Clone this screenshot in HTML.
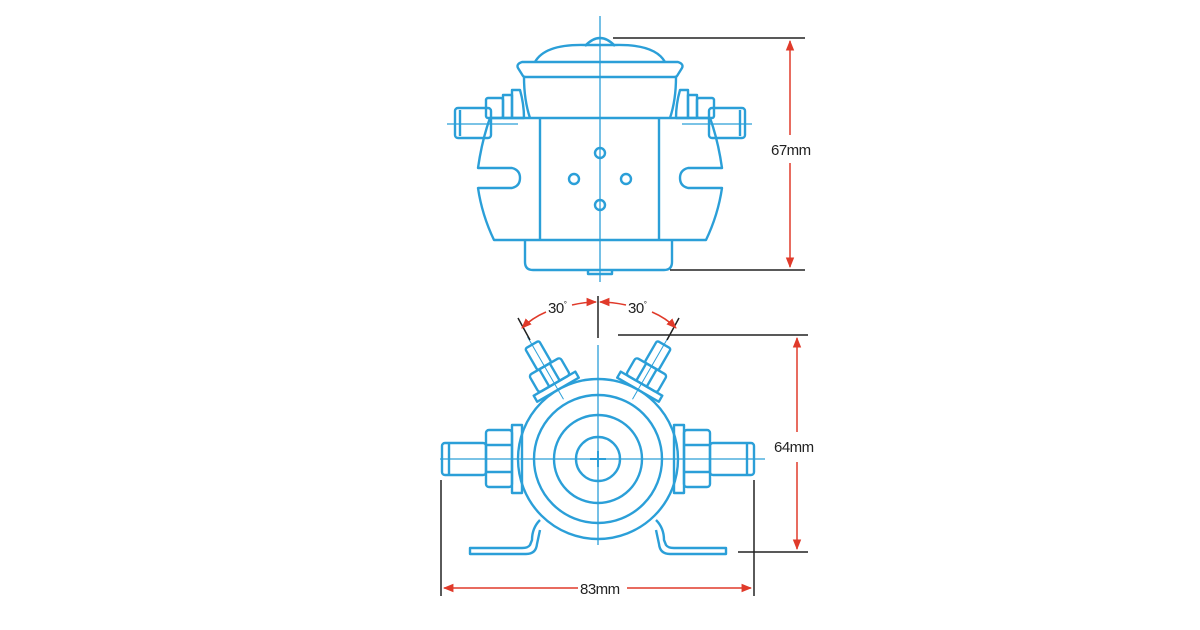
<!DOCTYPE html>
<html><head><meta charset="utf-8"><style>
html,body{margin:0;padding:0;background:#fff;width:1200px;height:630px;overflow:hidden}
svg{display:block}
text{font-family:"Liberation Sans",sans-serif;fill:#222}
</style></head><body>
<svg width="1200" height="630" viewBox="0 0 1200 630" xmlns="http://www.w3.org/2000/svg">
<defs>
<marker id="ar" viewBox="0 0 10 10" refX="9" refY="5" markerWidth="7" markerHeight="7" orient="auto-start-reverse"><path d="M0,1 L10,5 L0,9 Z" fill="#e03a2a"/></marker>
</defs>
<g fill="none" stroke="#2b9fd8" stroke-width="2.4" stroke-linejoin="round">
<!-- TOP VIEW -->
<line x1="600" y1="16" x2="600" y2="282" stroke-width="1.3"/>
<path d="M585,46 Q600,30 615,46"/>
<path d="M535,62 Q545,44 585,45 L615,45 Q655,44 665,62"/>
<path d="M522,62 L678,62 Q684,64 682,68 L677,76 Q676,77 674,77 L526,77 Q524,77 523,76 L518,68 Q516,64 522,62 Z"/>
<path d="M524,77 Q524,100 530,118 M676,77 Q676,100 670,118"/>
<!-- left nut/bolt -->
<path d="M512,90 L520,90 Q524,104 524,118 L512,118 Z"/>
<rect x="503" y="95" width="9" height="23"/>
<rect x="486" y="98" width="17" height="20" rx="2"/>
<rect x="455" y="108" width="36" height="30" rx="3"/>
<line x1="460" y1="110" x2="460" y2="136"/>
<path d="M688,90 L680,90 Q676,104 676,118 L688,118 Z"/>
<rect x="688" y="95" width="9" height="23"/>
<rect x="697" y="98" width="17" height="20" rx="2"/>
<rect x="709" y="108" width="36" height="30" rx="3"/>
<line x1="740" y1="110" x2="740" y2="136"/>
<line x1="447" y1="124" x2="518" y2="124" stroke-width="1.3"/>
<line x1="682" y1="124" x2="752" y2="124" stroke-width="1.3"/>
<!-- main body -->
<path d="M490,118 L710,118 Q718,140 722,168 L688,168 Q680,170 680,178 Q680,186 688,188 L722,188 Q718,215 706,240 L494,240 Q482,215 478,188 L512,188 Q520,186 520,178 Q520,170 512,168 L478,168 Q482,140 490,118 Z"/>
<line x1="540" y1="118" x2="540" y2="240"/>
<line x1="659" y1="118" x2="659" y2="240"/>
<circle cx="600" cy="153" r="5"/><circle cx="574" cy="179" r="5"/><circle cx="626" cy="179" r="5"/><circle cx="600" cy="205" r="5"/>
<path d="M525,240 L525,262 Q525,270 533,270 L664,270 Q672,270 672,262 L672,240"/>
<path d="M588,270 L588,274 L612,274 L612,270"/>

<!-- BOTTOM VIEW -->
<line x1="598" y1="345" x2="598" y2="545" stroke-width="1.3"/>
<line x1="440" y1="459" x2="765" y2="459" stroke-width="1.3"/>
<circle cx="598" cy="459" r="80"/>
<circle cx="598" cy="459" r="64"/>
<circle cx="598" cy="459" r="44"/>
<circle cx="598" cy="459" r="22"/>
<line x1="590" y1="459" x2="606" y2="459" stroke-width="2"/>
<line x1="598" y1="451" x2="598" y2="467" stroke-width="2"/>
<!-- side bolts -->
<rect x="512" y="425" width="10" height="68"/>
<rect x="486" y="430" width="26" height="57" rx="3"/>
<line x1="486" y1="445" x2="512" y2="445"/><line x1="486" y1="472" x2="512" y2="472"/>
<rect x="442" y="443" width="44" height="32" rx="3"/>
<line x1="449" y1="444" x2="449" y2="474"/>
<rect x="674" y="425" width="10" height="68"/>
<rect x="684" y="430" width="26" height="57" rx="3"/>
<line x1="684" y1="445" x2="710" y2="445"/><line x1="684" y1="472" x2="710" y2="472"/>
<rect x="710" y="443" width="44" height="32" rx="3"/>
<line x1="747" y1="444" x2="747" y2="474"/>
<!-- angled studs -->
<g transform="rotate(-30 598 459)">
<rect x="574" y="372" width="48" height="7"/>
<rect x="580" y="352" width="36" height="20" rx="3"/>
<line x1="592" y1="352" x2="592" y2="372"/><line x1="604" y1="352" x2="604" y2="372"/>
<rect x="590" y="327" width="16" height="25" rx="2"/>
<line x1="598" y1="318" x2="598" y2="390" stroke-width="1"/>
</g>
<g transform="rotate(30 598 459)">
<rect x="574" y="372" width="48" height="7"/>
<rect x="580" y="352" width="36" height="20" rx="3"/>
<line x1="592" y1="352" x2="592" y2="372"/><line x1="604" y1="352" x2="604" y2="372"/>
<rect x="590" y="327" width="16" height="25" rx="2"/>
<line x1="598" y1="318" x2="598" y2="390" stroke-width="1"/>
</g>
<!-- bracket -->
<path d="M540,520 Q532,528 532,540 L530,545 Q528,548 522,548 L470,548 L470,554 L526,554 Q536,554 537,544 L540,530"/>
<path d="M656,520 Q664,528 664,540 L666,545 Q668,548 674,548 L726,548 L726,554 L670,554 Q660,554 659,544 L656,530"/>
</g>

<!-- black dimension lines -->
<g stroke="#222" stroke-width="1.5" fill="none">
<line x1="613" y1="38" x2="805" y2="38"/>
<line x1="670" y1="270" x2="805" y2="270"/>
<line x1="598" y1="296" x2="598" y2="338"/>
<line x1="518" y1="318" x2="530" y2="340"/>
<line x1="679" y1="318" x2="667" y2="340"/>
<line x1="618" y1="335" x2="808" y2="335"/>
<line x1="738" y1="552" x2="808" y2="552"/>
<line x1="441" y1="480" x2="441" y2="596"/>
<line x1="754" y1="480" x2="754" y2="596"/>
</g>
<!-- red arrows -->
<g stroke="#e03a2a" stroke-width="1.5" fill="none">
<line x1="790" y1="41" x2="790" y2="135" marker-start="url(#ar)"/>
<line x1="790" y1="163" x2="790" y2="267" marker-end="url(#ar)"/>
<line x1="797" y1="338" x2="797" y2="432" marker-start="url(#ar)"/>
<line x1="797" y1="462" x2="797" y2="549" marker-end="url(#ar)"/>
<line x1="444" y1="588" x2="578" y2="588" marker-start="url(#ar)"/>
<line x1="627" y1="588" x2="751" y2="588" marker-end="url(#ar)"/>
<path d="M522,328 Q532,318 546,312" marker-start="url(#ar)"/>
<path d="M572,305 Q585,302 596,302" marker-end="url(#ar)"/>
<path d="M600,302 Q612,302 626,305" marker-start="url(#ar)"/>
<path d="M652,312 Q666,318 676,328" marker-end="url(#ar)"/>
</g>
<g font-size="15" letter-spacing="-0.5">
<text x="771" y="155">67mm</text>
<text x="774" y="452">64mm</text>
<text x="580" y="594">83mm</text>
<text x="548" y="313">30<tspan font-size="8" dy="-6">°</tspan></text>
<text x="628" y="313">30<tspan font-size="8" dy="-6">°</tspan></text>
</g>
</svg>
</body></html>
